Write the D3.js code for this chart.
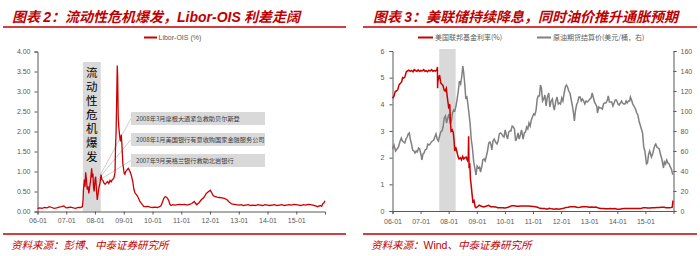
<!DOCTYPE html>
<html lang="zh">
<head>
<meta charset="UTF-8">
<title>Libor-OIS 与联邦基金利率</title>
<script src="https://d3js.org/d3.v7.min.js"></script>
<style>
  html, body { margin: 0; padding: 0; background: #fff; }
  svg text { font-family: "Liberation Sans", "Noto Sans CJK SC", sans-serif; }
  .cjk { font-family: "Noto Sans CJK SC", sans-serif; }
</style>
</head>
<body>
<div id="chart"></div>
<script>
// ---- data ----
const liborDates = ["2006-01-01","2006-02-01","2006-03-01","2006-04-01","2006-05-01","2006-06-01","2006-07-01","2006-08-01","2006-09-01","2006-10-01","2006-11-01","2006-12-01",
  "2007-01-01","2007-02-01","2007-03-01","2007-04-01","2007-05-01","2007-06-01","2007-07-01","2007-07-25","2007-08-03","2007-08-08","2007-08-20","2007-08-28",
  "2007-09-05","2007-09-14","2007-09-25","2007-10-05","2007-10-15","2007-10-25","2007-11-05","2007-11-20","2007-11-28","2007-12-06","2007-12-14","2007-12-22",
  "2008-01-02","2008-01-10","2008-01-20","2008-01-30","2008-02-10","2008-02-20","2008-03-05","2008-03-18","2008-03-28","2008-04-10","2008-04-25","2008-05-10",
  "2008-05-25","2008-06-10","2008-06-25","2008-07-10","2008-07-25","2008-08-10","2008-08-25","2008-09-05","2008-09-12","2008-09-18","2008-09-25","2008-10-01",
  "2008-10-07","2008-10-10","2008-10-15","2008-10-22","2008-10-30","2008-11-10","2008-11-20","2008-12-01","2008-12-10","2008-12-20","2009-01-05","2009-01-15",
  "2009-01-25","2009-02-05","2009-02-15","2009-02-28","2009-03-10","2009-03-25","2009-04-10","2009-04-25","2009-05-10","2009-05-25","2009-06-10","2009-06-25",
  "2009-07-10","2009-07-25","2009-08-10","2009-08-25","2009-09-10","2009-10-01","2009-11-01","2009-12-01","2010-01-01","2010-02-01","2010-03-01","2010-04-01",
  "2010-04-20","2010-05-10","2010-05-25","2010-06-10","2010-06-25","2010-07-10","2010-07-25","2010-08-10","2010-08-25","2010-09-15","2010-10-15","2010-11-15",
  "2010-12-15","2011-01-15","2011-02-15","2011-03-15","2011-04-15","2011-05-15","2011-06-15","2011-07-15","2011-08-15","2011-09-15","2011-10-15","2011-11-15",
  "2011-12-15","2012-01-05","2012-01-20","2012-02-10","2012-03-01","2012-04-01","2012-05-01","2012-06-01","2012-07-01","2012-08-01","2012-09-01","2012-10-01",
  "2012-11-01","2012-12-01","2013-01-01","2013-02-01","2013-03-01","2013-04-01","2013-05-01","2013-06-01","2013-07-01","2013-08-01","2013-09-01","2013-10-01",
  "2013-11-01","2013-12-01","2014-01-01","2014-02-01","2014-03-01","2014-04-01","2014-05-01","2014-06-01","2014-07-01","2014-08-01","2014-09-01","2014-10-01",
  "2014-11-01","2014-12-01","2015-01-01","2015-02-01","2015-03-01","2015-04-01","2015-05-01","2015-06-01","2015-07-01","2015-08-01","2015-09-01","2015-10-01",
  "2015-11-01","2015-11-20","2015-12-05","2015-12-20","2015-12-31"];
const liborValues = [0.08,0.09,0.08,0.10,0.09,0.12,0.10,0.08,0.09,0.11,0.12,0.14,
  0.09,0.10,0.11,0.09,0.08,0.10,0.10,0.12,0.30,0.55,0.80,0.62,
  0.98,0.80,0.55,0.63,0.45,0.60,0.75,1.08,0.85,0.95,0.60,0.50,
  0.80,0.87,0.55,0.29,0.45,0.60,0.71,0.92,0.80,0.78,0.71,0.68,
  0.72,0.75,0.70,0.78,0.74,0.80,0.82,0.90,0.98,1.60,1.96,2.60,
  3.30,3.65,3.40,2.38,2.10,1.88,1.75,1.92,1.60,1.20,0.96,0.93,
  1.00,1.02,1.05,1.08,1.04,0.98,0.88,0.75,0.55,0.46,0.42,0.38,
  0.32,0.25,0.21,0.17,0.13,0.12,0.13,0.11,0.10,0.11,0.10,0.12,
  0.15,0.25,0.33,0.37,0.36,0.33,0.28,0.18,0.15,0.17,0.16,0.17,
  0.18,0.17,0.18,0.16,0.18,0.20,0.25,0.17,0.22,0.30,0.35,0.45,
  0.50,0.53,0.48,0.40,0.38,0.36,0.35,0.34,0.33,0.30,0.24,0.19,
  0.18,0.17,0.16,0.17,0.15,0.16,0.17,0.15,0.16,0.15,0.17,0.16,
  0.15,0.17,0.16,0.15,0.16,0.17,0.15,0.16,0.17,0.15,0.16,0.17,
  0.16,0.18,0.17,0.16,0.15,0.17,0.16,0.18,0.17,0.16,0.14,0.12,
  0.15,0.13,0.20,0.22,0.27];

const fedDates = ["2006-01-01","2006-01-20","2006-02-05","2006-02-20","2006-03-10","2006-03-30","2006-04-15","2006-05-01","2006-05-12","2006-05-25","2006-06-10","2006-06-30",
  "2006-07-15","2006-08-01","2006-08-20","2006-09-05","2006-09-25","2006-10-10","2006-10-30","2006-11-15","2006-12-01","2006-12-20","2007-01-05","2007-01-25",
  "2007-02-10","2007-02-28","2007-03-15","2007-04-01","2007-04-20","2007-05-05","2007-05-25","2007-06-10","2007-06-30","2007-07-15","2007-08-01","2007-08-08",
  "2007-08-10","2007-08-15","2007-08-22","2007-09-05","2007-09-20","2007-10-05","2007-10-20","2007-11-01","2007-11-15","2007-12-01","2007-12-15","2007-12-31",
  "2008-01-15","2008-01-23","2008-02-01","2008-02-15","2008-03-01","2008-03-12","2008-03-20","2008-04-01","2008-04-15","2008-05-01","2008-05-15","2008-06-01",
  "2008-06-15","2008-07-01","2008-07-15","2008-08-01","2008-08-15","2008-09-01","2008-09-12","2008-09-16","2008-09-22","2008-10-01","2008-10-10","2008-10-20",
  "2008-10-30","2008-11-10","2008-11-25","2008-12-10","2008-12-20","2009-01-10","2009-02-01","2009-03-01","2009-04-01","2009-05-01","2009-06-01","2009-07-01",
  "2009-08-01","2009-09-01","2009-10-01","2009-11-01","2009-12-01","2010-01-01","2010-02-01","2010-03-01","2010-04-01","2010-05-01","2010-06-01","2010-07-01",
  "2010-08-01","2010-09-01","2010-10-01","2010-11-01","2010-12-01","2011-01-01","2011-02-01","2011-03-01","2011-04-01","2011-05-01","2011-06-01","2011-07-01",
  "2011-08-01","2011-09-01","2011-10-01","2011-11-01","2011-12-01","2012-01-01","2012-02-01","2012-03-01","2012-04-01","2012-05-01","2012-06-01","2012-07-01",
  "2012-08-01","2012-09-01","2012-10-01","2012-11-01","2012-12-01","2013-01-01","2013-02-01","2013-03-01","2013-04-01","2013-05-01","2013-06-01","2013-07-01",
  "2013-08-01","2013-09-01","2013-10-01","2013-11-01","2013-12-01","2014-01-01","2014-02-01","2014-03-01","2014-04-01","2014-05-01","2014-06-01","2014-07-01",
  "2014-08-01","2014-09-01","2014-10-01","2014-11-01","2014-12-01","2015-01-01","2015-02-01","2015-03-01","2015-04-01","2015-05-01","2015-06-01","2015-07-01",
  "2015-08-01","2015-09-01","2015-10-01","2015-11-01","2015-12-01","2015-12-15","2015-12-24","2015-12-31"];
const fedValues = [4.23,4.30,4.48,4.50,4.55,4.75,4.79,4.85,5.00,4.98,5.02,5.22,
  5.25,5.28,5.24,5.27,5.22,5.30,5.26,5.24,5.29,5.23,5.27,5.25,
  5.30,5.24,5.26,5.22,5.28,5.25,5.30,5.24,5.27,5.25,5.30,5.40,
  4.60,5.00,4.95,5.10,4.80,4.75,4.70,4.55,4.50,4.60,4.25,3.90,
  4.00,3.40,3.00,3.05,2.95,2.60,2.25,2.40,2.25,2.05,1.95,2.00,
  1.92,2.05,1.95,2.00,2.02,1.90,2.05,2.80,1.60,1.80,1.20,0.95,
  0.66,0.35,0.40,0.15,0.12,0.16,0.22,0.18,0.15,0.18,0.21,0.16,
  0.16,0.15,0.12,0.12,0.12,0.11,0.13,0.16,0.20,0.20,0.18,0.18,
  0.19,0.19,0.19,0.19,0.18,0.17,0.16,0.14,0.10,0.09,0.09,0.07,
  0.10,0.08,0.07,0.08,0.07,0.08,0.10,0.13,0.14,0.16,0.16,0.16,
  0.13,0.14,0.16,0.16,0.16,0.14,0.15,0.14,0.15,0.11,0.09,0.09,
  0.08,0.08,0.09,0.08,0.09,0.07,0.07,0.08,0.09,0.09,0.09,0.09,
  0.09,0.09,0.09,0.09,0.12,0.12,0.11,0.11,0.12,0.12,0.13,0.13,
  0.14,0.14,0.12,0.12,0.13,0.14,0.36,0.35];

const oilDates = ["2006-01-01","2006-01-20","2006-02-10","2006-03-01","2006-03-20","2006-04-10","2006-04-25","2006-05-10","2006-05-25","2006-06-10","2006-06-25","2006-07-10",
  "2006-07-25","2006-08-08","2006-08-20","2006-09-05","2006-09-20","2006-10-05","2006-10-20","2006-11-05","2006-11-20","2006-12-05","2006-12-20","2007-01-10",
  "2007-01-18","2007-02-01","2007-02-15","2007-03-01","2007-03-20","2007-04-05","2007-04-20","2007-05-05","2007-05-20","2007-06-05","2007-06-20","2007-07-05",
  "2007-07-20","2007-08-05","2007-08-20","2007-09-05","2007-09-20","2007-10-05","2007-10-20","2007-11-05","2007-11-20","2007-12-05","2007-12-20","2008-01-05",
  "2008-01-22","2008-02-05","2008-02-20","2008-03-05","2008-03-20","2008-04-05","2008-04-20","2008-05-05","2008-05-20","2008-06-05","2008-06-20","2008-07-03",
  "2008-07-15","2008-07-30","2008-08-10","2008-08-25","2008-09-05","2008-09-20","2008-10-05","2008-10-20","2008-11-05","2008-11-20","2008-12-05","2008-12-22",
  "2009-01-05","2009-01-20","2009-02-05","2009-02-18","2009-03-05","2009-03-20","2009-04-05","2009-04-20","2009-05-05","2009-05-20","2009-06-05","2009-06-20",
  "2009-07-05","2009-07-15","2009-07-30","2009-08-15","2009-09-01","2009-09-20","2009-10-05","2009-10-20","2009-11-05","2009-11-20","2009-12-05","2009-12-20",
  "2010-01-05","2010-01-20","2010-02-05","2010-02-20","2010-03-05","2010-03-20","2010-04-05","2010-04-20","2010-05-05","2010-05-20","2010-06-05","2010-06-20",
  "2010-07-05","2010-07-20","2010-08-05","2010-08-25","2010-09-10","2010-09-25","2010-10-10","2010-10-25","2010-11-10","2010-11-25","2010-12-10","2010-12-25",
  "2011-01-10","2011-01-25","2011-02-10","2011-02-25","2011-03-10","2011-03-25","2011-04-08","2011-04-20","2011-05-05","2011-05-20","2011-06-05","2011-06-20",
  "2011-07-05","2011-07-25","2011-08-08","2011-08-25","2011-09-10","2011-09-25","2011-10-05","2011-10-25","2011-11-10","2011-11-25","2011-12-10","2011-12-25",
  "2012-01-10","2012-01-25","2012-02-10","2012-02-25","2012-03-10","2012-03-25","2012-04-10","2012-04-25","2012-05-10","2012-05-25","2012-06-10","2012-06-22",
  "2012-07-05","2012-07-20","2012-08-05","2012-08-20","2012-09-05","2012-09-20","2012-10-05","2012-10-20","2012-11-05","2012-11-20","2012-12-05","2012-12-20",
  "2013-01-10","2013-01-25","2013-02-08","2013-02-25","2013-03-10","2013-03-25","2013-04-10","2013-04-18","2013-05-05","2013-05-20","2013-06-05","2013-06-20",
  "2013-07-05","2013-07-20","2013-08-05","2013-08-25","2013-09-05","2013-09-20","2013-10-05","2013-10-20","2013-11-05","2013-11-20","2013-12-05","2013-12-20",
  "2014-01-10","2014-01-25","2014-02-10","2014-02-25","2014-03-10","2014-03-25","2014-04-10","2014-04-25","2014-05-10","2014-05-25","2014-06-10","2014-06-20",
  "2014-07-05","2014-07-20","2014-08-05","2014-08-25","2014-09-10","2014-09-25","2014-10-10","2014-10-25","2014-11-10","2014-11-25","2014-12-10","2014-12-25",
  "2015-01-10","2015-01-15","2015-01-28","2015-02-10","2015-02-25","2015-03-10","2015-03-20","2015-04-05","2015-04-20","2015-05-05","2015-05-15","2015-05-30",
  "2015-06-15","2015-06-30","2015-07-15","2015-07-30","2015-08-10","2015-08-24","2015-09-05","2015-09-20","2015-10-05","2015-10-20","2015-11-05","2015-11-20",
  "2015-12-05","2015-12-20","2015-12-31"];
const oilValues = [62,66,60,62,64,70,73,70,69,68,72,74,
  77,78,72,67,61,60,58,60,59,63,62,55,
  51,57,58,61,62,67,66,67,69,70,71,74,
  77,72,70,75,79,80,84,93,95,88,93,97,
  87,90,98,101,100,105,112,120,130,127,135,145,
  138,125,113,114,108,98,88,72,63,50,43,36,
  45,43,44,39,44,51,52,50,55,60,68,69,
  66,61,70,72,69,67,70,77,78,77,75,74,
  81,76,72,79,80,80,85,84,82,70,73,78,
  72,76,81,72,78,79,84,82,88,85,91,94,
  97,96,101,112,115,115,126,123,110,112,116,105,
  113,118,104,110,112,104,101,110,114,107,108,107,
  113,110,118,124,126,124,120,118,112,106,98,90,
  100,106,109,114,114,110,112,110,107,110,109,110,
  112,113,118,113,109,107,104,98,104,103,103,102,
  107,108,108,111,115,109,109,109,105,108,111,111,
  107,106,108,110,108,107,107,110,108,110,110,114,
  111,107,105,102,98,96,90,86,82,78,64,60,
  50,47,48,56,60,57,54,57,62,66,67,64,
  63,62,57,53,49,43,49,47,51,48,47,44,
  42,37,37];

const xTickYears = [2006,2007,2008,2009,2010,2011,2012,2013,2014,2015];
const leftYTicks = [0,0.5,1,1.5,2,2.5,3,3.5,4];
const rightYTicksL = [0,1,2,3,4,5,6];
const rightYTicksR = [0,20,40,60,80,100,120,140,160];
const crisisBand = ["2007-08-01","2008-03-15"];
const crisisBand2 = ["2007-09-01","2008-04-01"];
const crisisLabel = "流动性危机爆发";
const eventLabels = ["2008年3月摩根大通紧急救助贝尔斯登","2008年1月美国银行有意收购国家金融服务公司","2007年9月英格兰银行救助北岩银行"];
const eventAnchors = [["2008-03-10",0.92],["2008-02-05",0.80],["2008-01-05",0.72]];

const RED = "#c00000", LINE_RED = "#cc0000", GRAY = "#808080", AXIS = "#595959", BAND = "#d9d9d9";
const parse = d3.timeParse("%Y-%m-%d");
const libor = liborDates.map((d, i) => ({date: parse(d), v: liborValues[i]}));
const fed = fedDates.map((d, i) => ({date: parse(d), v: fedValues[i]}));
const oil = oilDates.map((d, i) => ({date: parse(d), v: oilValues[i]}));
const tickDates = xTickYears.map(y => new Date(y, 0, 1));

const svg = d3.select("#chart").append("svg")
    .attr("width", 700)
    .attr("height", 256);

// headers and footers
function frame(x0, x1, tx, title, src, srcX) {
    svg.append("line").attr("x1", x0).attr("x2", x1).attr("y1", 27).attr("y2", 27)
        .attr("stroke", RED).attr("stroke-width", 1.5);
    svg.append("line").attr("x1", x0).attr("x2", x1).attr("y1", 234).attr("y2", 234)
        .attr("stroke", RED).attr("stroke-width", 1.5);
    const t = svg.append("text").attr("x", tx).attr("y", 22)
        .attr("fill", RED).style("font-size", "14px").style("font-weight", "bold")
        .style("font-style", "italic");
    title.forEach(p => t.append("tspan").attr("class", p[1] ? "cjk" : null).text(p[0]));
    const s = svg.append("text").attr("x", srcX).attr("y", 249)
        .attr("fill", RED).style("font-size", "10.5px");
    src.forEach(p => s.append("tspan").attr("class", p[1] ? "cjk" : null)
        .style("font-style", p[1] ? "italic" : "normal").text(p[0]));
}
frame(3, 346, 12, [["图表 ", true], ["2", false], ["：流动性危机爆发，", true], ["Libor-OIS", false], [" 利差走阔", true]],
    [["资料来源：彭博、中泰证券研究所", true]], 11);
frame(363, 697, 373, [["图表 ", true], ["3", false], ["：美联储持续降息，同时油价推升通胀预期", true]],
    [["资料来源：", true], ["Wind", false], ["、中泰证券研究所", true]], 371);

function styleAxis(g) {
    g.selectAll("path, line").attr("stroke", AXIS);
    g.selectAll("text").attr("fill", AXIS).style("font-size", "7px");
}

// ---- left chart ----
const x1 = d3.scaleTime().domain([new Date(2006, 0, 1), new Date(2016, 0, 1)]).range([37.5, 325]);
const y1 = d3.scaleLinear().domain([0, 4]).range([211.5, 51.5]);

svg.append("rect")
    .attr("x", x1(parse(crisisBand[0])))
    .attr("width", x1(parse(crisisBand[1])) - x1(parse(crisisBand[0])))
    .attr("y", 62).attr("height", y1(0) - 62)
    .attr("fill", BAND);
svg.append("text")
    .attr("class", "cjk")
    .attr("x", (x1(parse(crisisBand[0])) + x1(parse(crisisBand[1]))) / 2)
    .attr("y", 67)
    .style("writing-mode", "vertical-rl")
    .style("letter-spacing", "2.5px")
    .style("font-size", "11.5px").attr("fill", "#000")
    .text(crisisLabel);

svg.append("g").attr("transform", `translate(0,${y1(0)})`)
    .call(d3.axisBottom(x1).tickValues(tickDates).tickFormat(d3.timeFormat("%y-%m")).tickSize(3).tickPadding(4))
    .call(styleAxis);
svg.append("g").attr("transform", `translate(${x1.range()[0]},0)`)
    .call(d3.axisLeft(y1).tickValues(leftYTicks).tickFormat(d3.format(".2f")).tickSize(3).tickPadding(4))
    .call(styleAxis);

// event boxes
const boxY = [112, 133, 154];
eventLabels.forEach((lab, i) => {
    const a = eventAnchors[i];
    svg.append("line")
        .attr("x1", 131).attr("y1", boxY[i] + 6.5)
        .attr("x2", x1(parse(a[0]))).attr("y2", y1(a[1]))
        .attr("stroke", "#bfbfbf").attr("stroke-width", 0.8);
    svg.append("rect").attr("x", 131).attr("y", boxY[i]).attr("width", 134).attr("height", 13)
        .attr("fill", BAND);
    svg.append("text").attr("class", "cjk").attr("x", 136).attr("y", boxY[i] + 9)
        .attr("fill", "#404040").style("font-size", "6.2px").text(lab);
});

svg.append("path").datum(libor)
    .attr("fill", "none").attr("stroke", LINE_RED).attr("stroke-width", 1.3)
    .attr("d", d3.line().x(d => x1(d.date)).y(d => y1(d.v)));

// legend
svg.append("line").attr("x1", 144).attr("x2", 157).attr("y1", 37.5).attr("y2", 37.5)
    .attr("stroke", LINE_RED).attr("stroke-width", 2);
svg.append("text").attr("x", 158.5).attr("y", 40).attr("fill", AXIS).style("font-size", "7px").text("Libor-OIS (%)");

// ---- right chart ----
const x2 = d3.scaleTime().domain([new Date(2006, 0, 1), new Date(2016, 0, 1)]).range([392.5, 673.5]);
const y2 = d3.scaleLinear().domain([0, 6]).range([211, 51]);
const y2r = d3.scaleLinear().domain([0, 160]).range([211, 51]);

svg.append("rect")
    .attr("x", x2(parse(crisisBand2[0])))
    .attr("width", x2(parse(crisisBand2[1])) - x2(parse(crisisBand2[0])))
    .attr("y", 49).attr("height", y2(0) - 49)
    .attr("fill", BAND);

svg.append("g").attr("transform", `translate(0,${y2(0)})`)
    .call(d3.axisBottom(x2).tickValues(tickDates).tickFormat(d3.timeFormat("%y-%m")).tickSize(3).tickPadding(5))
    .call(styleAxis);
svg.append("g").attr("transform", `translate(${x2.range()[0]},0)`)
    .call(d3.axisLeft(y2).tickValues(rightYTicksL).tickFormat(d3.format("d")).tickSize(3).tickPadding(5))
    .call(styleAxis);
svg.append("g").attr("transform", `translate(${x2.range()[1]},0)`)
    .call(d3.axisRight(y2r).tickValues(rightYTicksR).tickFormat(d3.format("d")).tickSize(3).tickPadding(4))
    .call(styleAxis);

svg.append("path").datum(oil)
    .attr("fill", "none").attr("stroke", GRAY).attr("stroke-width", 1.5)
    .attr("d", d3.line().x(d => x2(d.date)).y(d => y2r(d.v)));
svg.append("path").datum(fed)
    .attr("fill", "none").attr("stroke", LINE_RED).attr("stroke-width", 1.5)
    .attr("d", d3.line().x(d => x2(d.date)).y(d => y2(d.v)));

// legend
svg.append("line").attr("x1", 418).attr("x2", 433).attr("y1", 37.5).attr("y2", 37.5)
    .attr("stroke", LINE_RED).attr("stroke-width", 2);
svg.append("text").attr("class", "cjk").attr("x", 435).attr("y", 40).attr("fill", AXIS)
    .style("font-size", "7px").text("美国联邦基金利率(%)");
svg.append("line").attr("x1", 537).attr("x2", 551).attr("y1", 37.5).attr("y2", 37.5)
    .attr("stroke", GRAY).attr("stroke-width", 2);
svg.append("text").attr("class", "cjk").attr("x", 553).attr("y", 40).attr("fill", AXIS)
    .style("font-size", "7px").text("原油期货结算价(美元/桶，右)");
</script>
</body>
</html>
